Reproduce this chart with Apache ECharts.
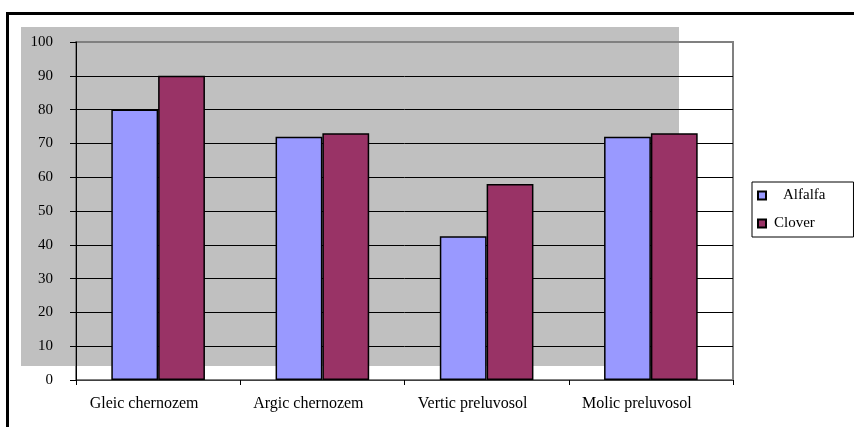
<!DOCTYPE html>
<html>
<head>
<meta charset="utf-8">
<script src="https://cdn.jsdelivr.net/npm/echarts@6/dist/echarts.min.js"></script>
<style>html,body{margin:0;padding:0;background:#fff}#c{width:854px;height:427px}</style>
</head>
<body>
<div id="c"></div>
<script>
var categories = ['Gleic chernozem', 'Argic chernozem', 'Vertic preluvosol', 'Molic preluvosol'];
var alfalfa = [80, 72, 42.5, 72];
var clover = [90, 73, 58, 73];
var seriesNames = ['Alfalfa', 'Clover'];
var yMin = 0, yMax = 100, yStep = 10;

var FONT = '"Liberation Serif", "Times New Roman", serif';
var splitColors = [];
for (var i = 0; i < 10; i++) splitColors.push('#000');
splitColors.push('#808080');

var chart = echarts.init(document.getElementById('c'), null, {renderer: 'canvas'});
chart.setOption({
  animation: false,
  backgroundColor: '#fff',
  textStyle: {fontFamily: FONT},
  graphic: [
    {type: 'rect', z: -100, silent: true, shape: {x: 21, y: 27, width: 658, height: 339}, style: {fill: '#c0c0c0'}},
    {type: 'rect', z: 100, silent: true, shape: {x: 7.5, y: 13.5, width: 870, height: 440}, style: {fill: null, stroke: '#000', lineWidth: 3}}
  ],
  grid: {left: 76, right: 121, top: 42, bottom: 47, show: true, borderColor: '#808080', borderWidth: 2, backgroundColor: 'transparent'},
  legend: {
    orient: 'vertical', left: 752, top: 182,
    itemWidth: 8, itemHeight: 8, itemGap: 13,
    padding: [6, 28, 6, 5],
    borderColor: '#000', borderWidth: 1,
    icon: 'rect',
    data: seriesNames,
    formatter: function (n) { return n === 'Alfalfa' ? '{p|' + n + '}' : '{q|' + n + '}'; },
    textStyle: {fontFamily: FONT, fontSize: 15, color: '#000',
      rich: {p: {fontFamily: FONT, fontSize: 15, padding: [0, 0, 0, 12]}, q: {fontFamily: FONT, fontSize: 15, padding: [0, 0, 0, 3]}}}
  },
  xAxis: {
    type: 'category', data: categories,
    axisLine: {lineStyle: {color: '#404040', width: 1}},
    axisTick: {show: true, length: 5, lineStyle: {color: '#000'}},
    axisLabel: {fontFamily: FONT, fontSize: 16, color: '#000', margin: 16, padding: [0, 28, 0, 0], interval: 0}
  },
  yAxis: {
    type: 'value', min: yMin, max: yMax, interval: yStep,
    axisLine: {show: true, lineStyle: {color: '#000', width: 1}},
    axisTick: {show: true, length: 6, lineStyle: {color: '#000'}},
    axisLabel: {fontFamily: FONT, fontSize: 15, color: '#000', margin: 23},
    splitLine: {show: true, lineStyle: {color: splitColors, width: 1}}
  },
  series: [
    {name: seriesNames[0], type: 'bar', data: alfalfa, barGap: '0%', barCategoryGap: '43%',
      itemStyle: {color: '#9999ff', borderColor: '#000', borderWidth: 1.5}},
    {name: seriesNames[1], type: 'bar', data: clover, barGap: '0%', barCategoryGap: '43%',
      itemStyle: {color: '#993366', borderColor: '#000', borderWidth: 1.5}}
  ]
});
</script>
</body>
</html>
